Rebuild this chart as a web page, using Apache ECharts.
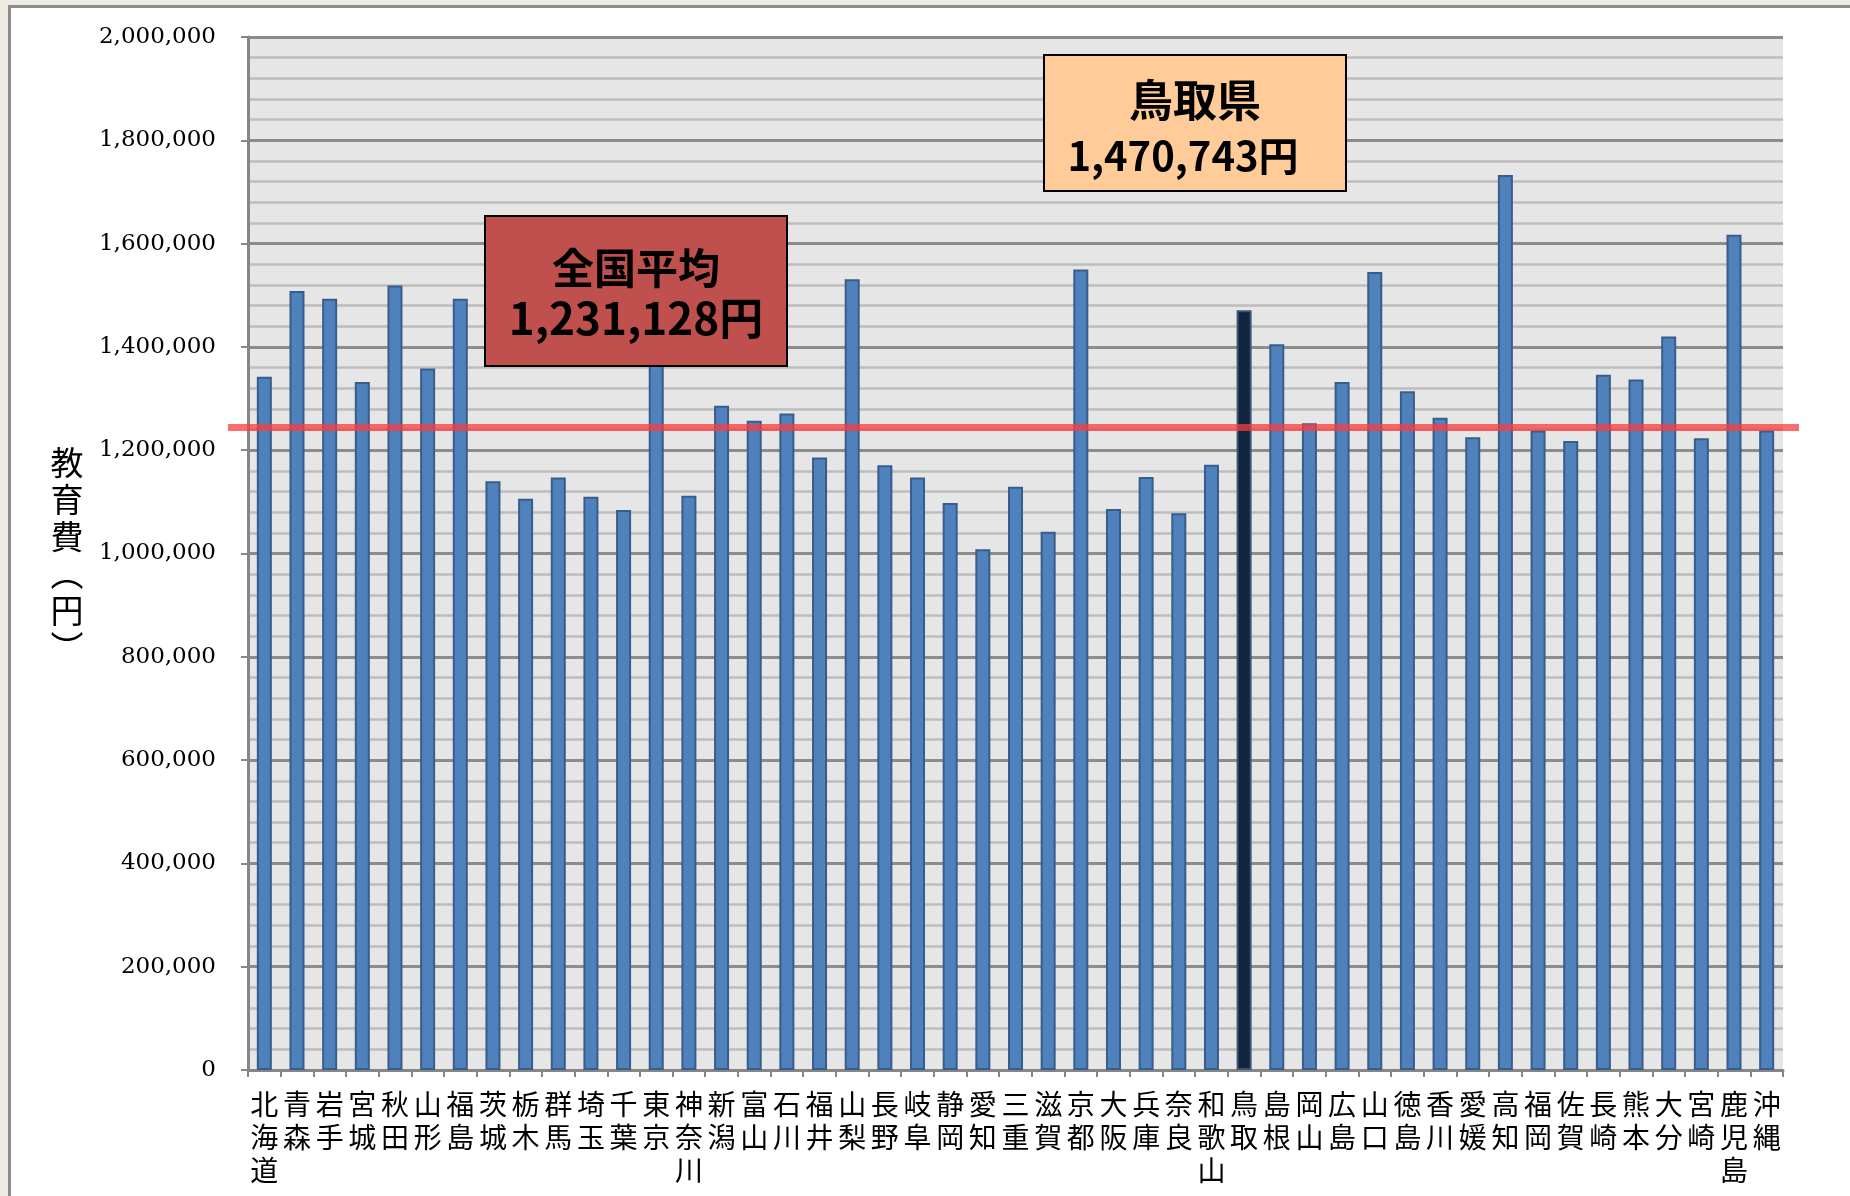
<!DOCTYPE html>
<html>
<head>
    <meta charset="utf-8">
    <title>教育費</title>
    <style>
        body { margin: 0; background: #eeebe3; }
        /* 白い台紙と外枠 */
        #panel { position: absolute; left: 8px; top: 5px; right: 0; bottom: 0; background: #fff;
                 border-left: 3px solid #8c8c8c; border-top: 3px solid #8c8c8c; }
        #chart1 { position: absolute; left: 0; top: 0; width: 1850px; height: 1196px; }
    </style>
    <script src="https://cdn.jsdelivr.net/npm/echarts@6.0.0/dist/echarts.min.js"></script>
</head>
<body>
    <div id="panel"></div>
    <div id="chart1"></div>
<script type="text/javascript">
    // 都道府県
    var prefs = ['北海道','青森','岩手','宮城','秋田','山形','福島','茨城','栃木','群馬',
        '埼玉','千葉','東京','神奈川','新潟','富山','石川','福井','山梨','長野',
        '岐阜','静岡','愛知','三重','滋賀','京都','大阪','兵庫','奈良','和歌山',
        '鳥取','島根','岡山','広島','山口','徳島','香川','愛媛','高知','福岡',
        '佐賀','長崎','熊本','大分','宮崎','鹿児島','沖縄'];
    // 教育費(円)
    var costs = [1342000,1508000,1493000,1332000,1519000,1358000,1493000,1140000,1106000,1147000,
        1110000,1084000,1450000,1112000,1286000,1257000,1271000,1186000,1531000,1171000,
        1147000,1098000,1008000,1129000,1042000,1550000,1086000,1148000,1078000,1172000,
        1470743,1405000,1252000,1332000,1545000,1314000,1263000,1225000,1733000,1238000,
        1218000,1346000,1337000,1420000,1223000,1617000,1238000];
    var yTicks = [0,200000,400000,600000,800000,1000000,1200000,1400000,1600000,1800000,2000000];
    var highlight = '鳥取';
    var avgLineValue = 1244000;   // 赤線の位置
    var avgText = ['全国平均', '1,231,128円'];
    var tottoriText = ['鳥取県', '1,470,743円'];

    var myChart = echarts.init(document.getElementById('chart1'));

    var barData = costs.map(function (v, i) {
        if (prefs[i] === highlight) {
            return { value: v, itemStyle: { color: '#12233d', borderColor: '#3a5578' } };
        }
        return v;
    });

    var option = {
        animation: false,
        grid: { left: 248, top: 37, right: 67, bottom: 126, backgroundColor: '#e6e6e6', show: true, borderWidth: 0 },
        xAxis: {
            type: 'category',
            data: prefs,
            axisLine: { lineStyle: { color: '#868686', width: 3 } },
            axisTick: { show: true, length: 7, lineStyle: { color: '#868686', width: 2 } },
            axisLabel: {
                interval: 0,
                margin: 18,
                color: '#000',
                fontFamily: 'Noto Sans CJK JP',
                fontSize: 28,
                lineHeight: 33,
                formatter: function (v) { return v.split('').join('\n'); }
            }
        },
        yAxis: {
            type: 'value',
            min: yTicks[0],
            max: yTicks[yTicks.length - 1],
            interval: yTicks[1] - yTicks[0],
            axisLine: { show: true, lineStyle: { color: '#868686', width: 3 } },
            axisTick: { show: true, length: 7, lineStyle: { color: '#868686', width: 2 } },
            axisLabel: {
                margin: 32,
                color: '#000',
                fontFamily: 'DejaVu Serif',
                fontSize: 23,
                formatter: function (v) { return v.toLocaleString('en-US'); }
            },
            splitLine: { lineStyle: { color: '#8c8c8c', width: 3 } },
            minorTick: { show: false, splitNumber: 5 },
            minorSplitLine: { show: true, lineStyle: { color: '#bdbdbd', width: 2.5 } }
        },
        series: [{
            type: 'bar',
            data: barData,
            barWidth: 15,
            z: 2,
            itemStyle: { color: '#4f81bd', borderColor: '#385d8a', borderWidth: 2 }
        }]
    };
    myChart.setOption(option);

    // 平均の赤線と注記ボックス
    var lineY = myChart.convertToPixel({ yAxisIndex: 0 }, avgLineValue);
    function box(x, y, w, h, fill, lines, sizes, dy) {
        return [
            { type: 'rect', z: 100, shape: { x: x, y: y, width: w, height: h },
              style: { fill: fill, stroke: '#000', lineWidth: 2 } },
            { type: 'text', z: 101, style: { x: x + w / 2, y: y + dy[0], text: lines[0], align: 'center', verticalAlign: 'middle',
              font: 'bold ' + sizes[0] + 'px "Noto Sans CJK JP"', fill: '#000' } },
            { type: 'text', z: 101, style: { x: x + w / 2 + dy[2], y: y + dy[1], text: lines[1], align: 'center', verticalAlign: 'middle',
              font: 'bold ' + sizes[1] + 'px "Noto Sans CJK JP"', fill: '#000' } }
        ];
    }
    myChart.setOption({
        graphic: [
            { type: 'line', z: 50, shape: { x1: 228, y1: lineY, x2: 1799, y2: lineY },
              style: { stroke: 'rgba(250,60,60,0.75)', lineWidth: 7 } },
            { type: 'text', z: 10, style: { x: 67, y: 555, text: '教\n育\n費\n︵\n円\n︶', align: 'center', verticalAlign: 'middle',
              font: '33px "Noto Sans CJK JP"', lineHeight: 37, fill: '#000' } }
        ].concat(
            box(485, 216, 302, 150, '#c0504d', avgText, [42, 44], [52, 102, 0]),
            box(1044, 55, 302, 136, '#ffcc99', tottoriText, [44, 40], [45, 101, -12])
        )
    });
</script>
</body>
</html>
